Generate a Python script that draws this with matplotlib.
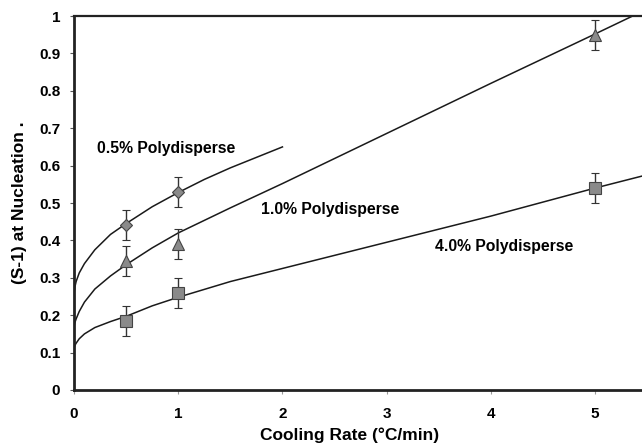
import matplotlib
matplotlib.use('Agg')
import matplotlib.pyplot as plt

plt.rcParams['font.family'] = ['Liberation Sans', 'DejaVu Sans']
plt.rcParams['font.weight'] = 'bold'

# measured points (cooling rate, S-1) with error bars
x_05 = [0.5, 1.0]
y_05 = [0.44, 0.53]
err_05 = [0.04, 0.04]

x_10 = [0.5, 1.0, 5.0]
y_10 = [0.345, 0.39, 0.95]
err_10 = [0.04, 0.04, 0.04]

x_40 = [0.5, 1.0, 5.0]
y_40 = [0.185, 0.26, 0.54]
err_40 = [0.04, 0.04, 0.04]

# trend curves
fit_x_05 = [0, 0.002, 0.008, 0.02, 0.05, 0.1, 0.2, 0.35, 0.5, 0.75, 1.0, 1.25, 1.5, 1.75, 2.0]
fit_y_05 = [0.25, 0.262, 0.275, 0.29, 0.313, 0.338, 0.375, 0.416, 0.445, 0.49, 0.528, 0.563, 0.594, 0.622, 0.65]

fit_x_10 = [0, 0.002, 0.008, 0.02, 0.05, 0.1, 0.2, 0.35, 0.5, 0.75, 1.0, 1.5, 2.0, 3.0, 4.0, 5.0, 5.45]
fit_y_10 = [0.165, 0.172, 0.18, 0.19, 0.21, 0.235, 0.27, 0.305, 0.335, 0.38, 0.42, 0.487, 0.552, 0.686, 0.82, 0.952, 1.012]

fit_x_40 = [0, 0.002, 0.008, 0.02, 0.05, 0.1, 0.2, 0.35, 0.5, 0.75, 1.0, 1.5, 2.0, 3.0, 4.0, 5.0, 5.45]
fit_y_40 = [0.11, 0.114, 0.119, 0.125, 0.137, 0.15, 0.167, 0.183, 0.197, 0.225, 0.248, 0.29, 0.325, 0.395, 0.465, 0.54, 0.572]

x_ticks = [0, 1, 2, 3, 4, 5]
y_ticks = [0, 0.1, 0.2, 0.3, 0.4, 0.5, 0.6, 0.7, 0.8, 0.9, 1]
y_tick_labels = ['0', '0.1', '0.2', '0.3', '0.4', '0.5', '0.6', '0.7', '0.8', '0.9', '1']

fig = plt.figure(figsize=(6.42, 4.45), dpi=100)
ax = fig.add_axes([0.1153, 0.1236, 0.8847, 0.8404])

# trend lines
ax.plot(fit_x_05, fit_y_05, color='#1a1a1a', lw=1.1)
ax.plot(fit_x_10, fit_y_10, color='#1a1a1a', lw=1.1)
ax.plot(fit_x_40, fit_y_40, color='#1a1a1a', lw=1.1)

# data points
eb = dict(ls='none', ecolor='#333333', elinewidth=1.0, capsize=3, capthick=1.0,
          mfc='#8a8a8a', mec='#444444', mew=0.8)
ax.errorbar(x_05, y_05, yerr=err_05, marker='D', ms=6, **eb)
ax.errorbar(x_10, y_10, yerr=err_10, marker='^', ms=8, **eb)
ax.errorbar(x_40, y_40, yerr=err_40, marker='s', ms=9, **eb)

ax.text(0.22, 0.647, '0.5% Polydisperse', fontsize=11.3, fontweight='bold', ha='left', va='center')
ax.text(1.79, 0.483, '1.0% Polydisperse', fontsize=11.3, fontweight='bold', ha='left', va='center')
ax.text(3.46, 0.383, '4.0% Polydisperse', fontsize=11.3, fontweight='bold', ha='left', va='center')

ax.set_xlim(0, 5.45)
ax.set_ylim(0, 1)
ax.set_xticks(x_ticks)
ax.set_xticklabels([str(t) for t in x_ticks], fontsize=11, fontweight='bold')
ax.set_yticks(y_ticks)
ax.set_yticklabels(y_tick_labels, fontsize=11, fontweight='bold')
ax.tick_params(axis='x', direction='out', length=3, width=0.8, color='#999999', pad=9)
ax.tick_params(axis='y', direction='out', length=3, width=0.8, color='#555555', pad=7)

ax.spines['right'].set_visible(False)
ax.spines['left'].set_linewidth(2.0)
ax.spines['bottom'].set_linewidth(2.0)
ax.spines['top'].set_linewidth(1.6)
for s in ['left', 'bottom', 'top']:
    ax.spines[s].set_color('#222222')

fig.text(0.545, 0.005, 'Cooling Rate (°C/min)', fontsize=12.5, fontweight='bold', ha='center', va='bottom')
fig.text(0.03, 0.545, '(S-1) at Nucleation .', fontsize=12.5, fontweight='bold',
         rotation=90, ha='center', va='center')

fig.savefig('out.png', dpi=100)
